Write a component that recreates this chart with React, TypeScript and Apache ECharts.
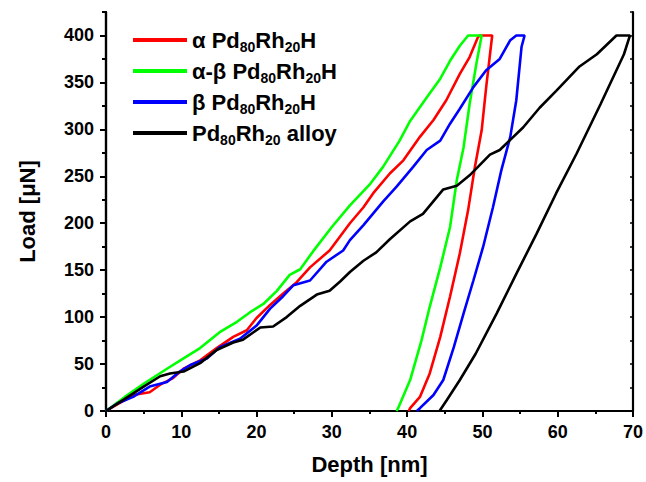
import React, { useEffect, useRef } from "react";
import * as echarts from "echarts";

// ---- data (Depth [nm], Load [µN]) ----
const alphaDepth = [0, 1.5, 3.6, 5.8, 7.2, 8.9, 10.3, 12.5, 14.7, 16.9, 18.7, 20, 21.8, 23.5, 25.3, 27.1, 29.7, 32.4, 34.2, 35.5, 37.7, 39.5, 41.7, 43.5, 45.2, 47, 48.3, 49.4, 49.6, 51.3,
  50.5, 49.9, 49, 48.1, 47, 45.7, 44.4, 43, 41.7, 40.4, 40.2];
const alphaLoad = [0, 7, 17, 20, 28, 35, 45, 54, 67, 79, 86, 99, 113, 125, 137, 153, 171, 200, 217, 232, 253, 267, 292, 310, 331, 359, 377, 398, 400, 400,
  345, 299, 260, 214, 168, 122, 79, 40, 15, 3, 0];

const alphaBetaDepth = [0, 2.5, 5, 8.1, 10.3, 12.5, 15.1, 17.4, 19.1, 20.9, 22.7, 24.4, 25.8, 27.5, 30, 32.4, 35.1, 36.8, 39, 40.4, 42.6, 44.4, 45.7, 47, 48.1, 49.9,
  49.2, 48.3, 47.5, 46.6, 45.7, 44.4, 43, 41.9, 40.4, 38.8, 38.6];
const alphaBetaLoad = [0, 15, 29, 45, 56, 67, 84, 95, 105, 114, 128, 145, 151, 170, 196, 219, 242, 260, 288, 309, 334, 354, 373, 389, 400, 400,
  370, 327, 281, 246, 196, 153, 111, 75, 33, 3, 0];

const betaDepth = [0, 1.5, 3.6, 5.8, 8.1, 9.8, 11.2, 13.4, 15.1, 17.8, 20, 21.8, 23.5, 24.9, 27.1, 29.3, 31.5, 32.4, 34.2, 36.8, 38.6, 40.8, 42.6, 44.4, 45.7, 47, 48.8, 50.5, 52.3, 53.7, 54.5, 55.6,
  55.2, 54.5, 53.7, 52.5, 51.4, 50.1, 48.8, 47.5, 46.2, 44.8, 43.5, 41.7, 41.3];
const betaLoad = [0, 8, 15, 26, 31, 42, 49, 56, 68, 77, 91, 109, 122, 134, 139, 159, 171, 182, 198, 223, 239, 260, 278, 288, 306, 322, 345, 363, 375, 395, 400, 400,
  388, 331, 292, 256, 217, 175, 139, 104, 68, 33, 17, 3, 0];

const alloyDepth = [0, 2.5, 5, 7.2, 8.5, 10.3, 12.5, 14.7, 16.9, 18.2, 20.5, 22.2, 24, 25.8, 28, 29.7, 31.1, 32.4, 34.2, 35.9, 37.7, 40.4, 42.1, 44.8, 46.6, 48.3, 51, 52.3, 55.4, 57.6, 59.8, 62.9, 65.2, 67.8, 69.6,
  68.8, 65.7, 62.5, 59.8, 57.2, 54.5, 51.9, 49.1, 47, 45.3, 44.3];
const alloyLoad = [0, 13, 26, 37, 40, 42, 51, 65, 73, 76, 89, 90, 100, 112, 124, 128, 138, 148, 160, 169, 183, 202, 210, 236, 240, 251, 273, 278, 302, 323, 341, 367, 380, 400, 400,
  380, 327, 274, 232, 189, 146, 104, 61, 33, 12, 0];

const seriesNames = ["alpha", "alphaBeta", "beta", "alloy"];
const seriesColors = ["#ff0000", "#00ff00", "#0000ff", "#000000"];
const legendLabels: Record<string, string> = {
  alpha: "{t|α Pd}{s|80}{t|Rh}{s|20}{t|H}",
  alphaBeta: "{t|α-β Pd}{s|80}{t|Rh}{s|20}{t|H}",
  beta: "{t|β Pd}{s|80}{t|Rh}{s|20}{t|H}",
  alloy: "{t|Pd}{s|80}{t|Rh}{s|20}{t| alloy}",
};
const yMajorTicks = [0, 50, 100, 150, 200, 250, 300, 350, 400];
const yMinorTicks = [25, 75, 125, 175, 225, 275, 325, 375, 425];

const zip = (xs: number[], ys: number[]) => xs.map((x, i) => [x, ys[i]]);
const seriesData = [
  zip(alphaDepth, alphaLoad),
  zip(alphaBetaDepth, alphaBetaLoad),
  zip(betaDepth, betaLoad),
  zip(alloyDepth, alloyLoad),
];

const FONT = "Liberation Sans, Arial, sans-serif";

export default function App() {
  const ref = useRef<HTMLDivElement>(null);
  useEffect(() => {
    if (!ref.current) return;
    const chart = echarts.init(ref.current, undefined, { renderer: "svg" });
    const axisLine = { show: true, lineStyle: { color: "#000", width: 2.2 } };
    const labelStyle = { color: "#000", fontSize: 18, fontWeight: "bold" as const, fontFamily: FONT };
    chart.setOption({
      animation: false,
      backgroundColor: "#fff",
      grid: { left: 106, right: 13, top: 12, bottom: 71 },
      legend: {
        orient: "vertical",
        left: 128,
        top: 21,
        itemWidth: 54,
        itemHeight: 4,
        itemGap: 3,
        icon: "rect",
        data: seriesNames.map((n, i) => ({ name: n, itemStyle: { color: seriesColors[i] } })),
        formatter: (name: string) => legendLabels[name],
        textStyle: {
          color: "#000",
          fontFamily: FONT,
          rich: {
            t: { fontSize: 22, fontWeight: "bold", fontFamily: FONT, color: "#000", lineHeight: 28 },
            s: { fontSize: 14, fontWeight: "bold", fontFamily: FONT, color: "#000", lineHeight: 14, padding: [14, 0, 0, 0] },
          },
        },
      },
      xAxis: [
        {
          type: "value", position: "bottom", min: 0, max: 70, interval: 10,
          name: "Depth [nm]", nameLocation: "middle", nameGap: 42,
          nameTextStyle: { color: "#000", fontSize: 22, fontWeight: "bold", fontFamily: FONT },
          axisLine,
          axisTick: { show: true, inside: false, length: 6, lineStyle: { color: "#000", width: 2 } },
          minorTick: { show: true, splitNumber: 2, length: 3, lineStyle: { color: "#000", width: 2 } },
          axisLabel: { ...labelStyle, margin: 12 },
          splitLine: { show: false },
        },
        {
          type: "value", position: "top", min: 0, max: 70, interval: 10,
          axisLine,
          axisTick: { show: true, inside: true, length: 3, lineStyle: { color: "#000", width: 1.5 } },
          minorTick: { show: true, splitNumber: 2, length: 2, lineStyle: { color: "#000", width: 1.5 } },
          axisLabel: { show: false },
          splitLine: { show: false },
        },
      ],
      yAxis: [
        {
          type: "value", position: "left", min: 0, max: 425, interval: 25,
          name: "Load [μN]", nameLocation: "middle", nameGap: 68,
          nameTextStyle: { color: "#000", fontSize: 22, fontWeight: "bold", fontFamily: FONT },
          axisLine,
          axisTick: { show: true, inside: false, length: 6, customValues: yMajorTicks, lineStyle: { color: "#000", width: 2 } },
          axisLabel: { ...labelStyle, margin: 12, customValues: yMajorTicks },
          splitLine: { show: false },
        },
        {
          type: "value", position: "left", min: 0, max: 425, interval: 25,
          axisLine,
          axisTick: { show: true, inside: false, length: 4, customValues: yMinorTicks, lineStyle: { color: "#000", width: 2 } },
          axisLabel: { show: false },
          splitLine: { show: false },
        },
        {
          type: "value", position: "right", min: 0, max: 425, interval: 25,
          axisLine,
          axisTick: { show: true, inside: true, length: 3, lineStyle: { color: "#000", width: 1.5 } },
          axisLabel: { show: false },
          splitLine: { show: false },
        },
      ],
      series: seriesNames.map((n, i) => ({
        name: n,
        type: "line",
        xAxisIndex: 0,
        yAxisIndex: 0,
        data: seriesData[i],
        symbol: "none",
        showSymbol: false,
        clip: true,
        lineStyle: { color: seriesColors[i], width: 2.6 },
        itemStyle: { color: seriesColors[i] },
        z: 2 + i,
      })),
    });
    return () => chart.dispose();
  }, []);
  return <div ref={ref} style={{ position: "fixed", left: 0, top: 0, width: 646, height: 482, background: "#fff" }} />;
}
